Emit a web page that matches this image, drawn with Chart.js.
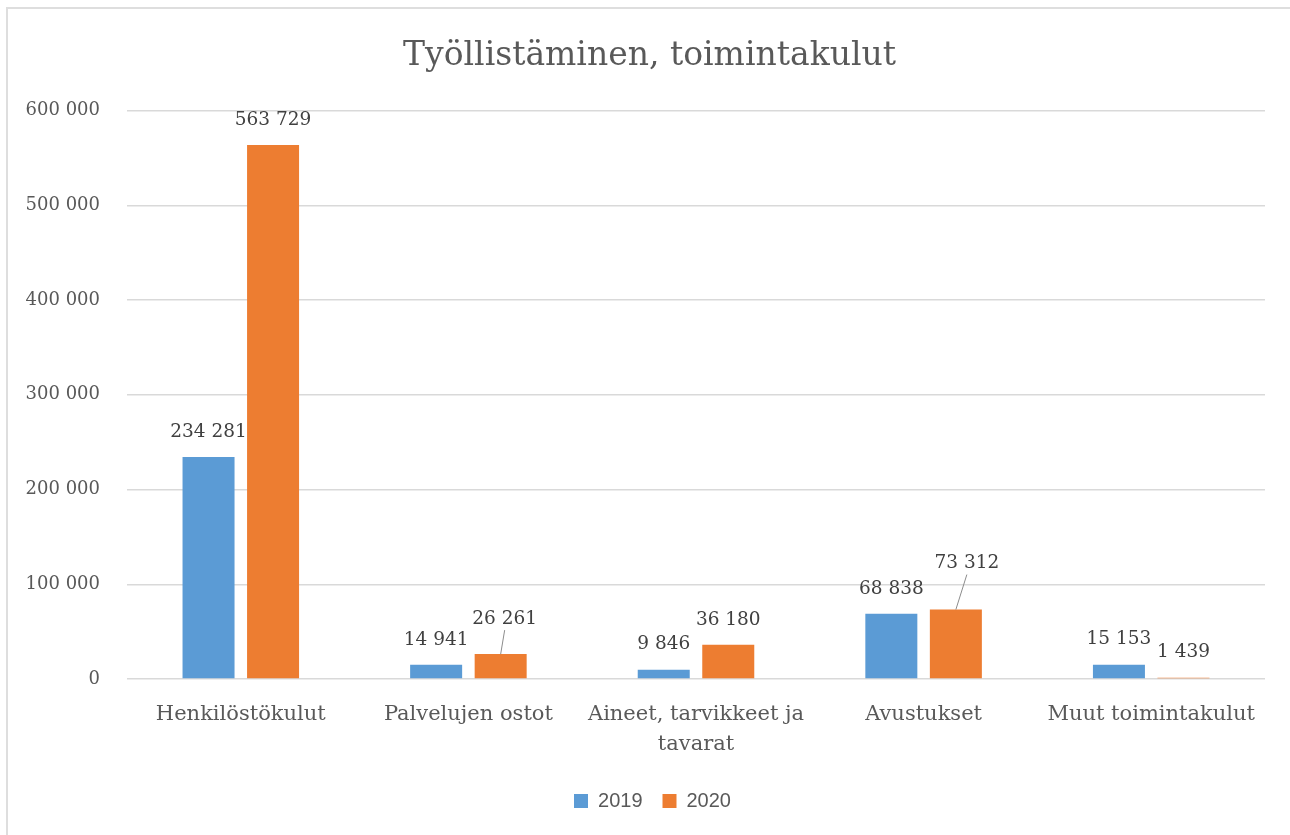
<!DOCTYPE html>
<html>
<head>
<meta charset="utf-8">
<script src="https://cdn.jsdelivr.net/npm/chart.js@4.4.1/dist/chart.umd.min.js"></script>
<style>
  html, body { margin: 0; padding: 0; background: #fff; }
  #wrap { position: relative; width: 1290px; height: 835px; }
  #frame {
    position: absolute; left: 6px; top: 7px; right: -10px; bottom: -10px;
    border-left: 2px solid #dedede; border-top: 2px solid #dedede;
    pointer-events: none;
  }
</style>
</head>
<body>
<div id="wrap">
  <canvas id="myChart" width="1290" height="835"></canvas>
  <div id="frame"></div>
</div>
<script>
const categories = [
  'Henkilöstökulut',
  'Palvelujen ostot',
  ['Aineet, tarvikkeet ja', 'tavarat'],
  'Avustukset',
  'Muut toimintakulut'
];
const values2019 = [234281, 14941, 9846, 68838, 15153];
const values2020 = [563729, 26261, 36180, 73312, 1439];
const yTicks = [0, 100000, 200000, 300000, 400000, 500000, 600000];

const serif = "'DejaVu Serif', serif";

function spaced(v) {
  return String(Math.round(v)).replace(/\B(?=(\d{3})+(?!\d))/g, ' ');
}

// Excel moved two labels up and drew a leader line to the bar
const labelNudge = { '1-1': [4, -10], '1-3': [11, -21] };

const barLabels = {
  id: 'barLabels',
  afterDatasetsDraw(chart) {
    const ctx = chart.ctx;
    ctx.save();
    ctx.font = '18.5px ' + serif;
    ctx.fillStyle = '#404040';
    ctx.textAlign = 'center';
    ctx.textBaseline = 'middle';
    chart.data.datasets.forEach((ds, di) => {
      chart.getDatasetMeta(di).data.forEach((bar, i) => {
        const n = labelNudge[di + '-' + i] || [0, 0];
        const x = bar.x + n[0];
        const y = bar.y - 25 + n[1];
        if (n[1] !== 0) {
          ctx.strokeStyle = '#8c8c8c';
          ctx.lineWidth = 1;
          ctx.beginPath();
          ctx.moveTo(x, y + 11);
          ctx.lineTo(bar.x, bar.y);
          ctx.stroke();
        }
        ctx.fillText(spaced(ds.data[i]), x, y);
      });
    });
    ctx.restore();
  }
};

// title and legend sit a bit right of the canvas centre in the original
const shiftBoxes = {
  id: 'shiftBoxes',
  afterLayout(chart) {
    chart.titleBlock.left += 17;
    chart.titleBlock.right += 17;
    chart.legend.left += 20;
    chart.legend.right += 20;
  }
};

const config = {
  type: 'bar',
  data: {
    labels: categories,
    datasets: [
      { label: '2019', data: values2019, backgroundColor: '#5B9BD5' },
      { label: '2020', data: values2020, backgroundColor: '#ED7D31' }
    ]
  },
  options: {
    responsive: false,
    animation: false,
    categoryPercentage: 0.567,
    barPercentage: 0.806,
    layout: { padding: { left: 0, right: 25, top: 0, bottom: 14 } },
    plugins: {
      title: {
        display: true,
        text: 'Työllistäminen, toimintakulut',
        color: '#595959',
        font: { family: serif, size: 33, weight: 'normal' },
        padding: { top: 37, bottom: 34 }
      },
      legend: {
        position: 'bottom',
        labels: {
          color: '#595959',
          font: { family: "'Liberation Sans', sans-serif", size: 20 },
          boxWidth: 14,
          boxHeight: 14,
          padding: 20
        }
      },
      tooltip: { enabled: false }
    },
    scales: {
      x: {
        grid: { display: false },
        border: { display: false },
        ticks: {
          color: '#595959',
          font: { family: serif, size: 21, lineHeight: 1.4 },
          padding: 13,
          maxRotation: 0
        },
        afterFit(scale) { scale.height = 92; }
      },
      y: {
        min: 0,
        max: 600000,
        afterBuildTicks(scale) { scale.ticks = yTicks.map(v => ({ value: v })); },
        grid: { color: '#d9d9d9', lineWidth: 1.5, drawTicks: false },
        border: { display: false },
        ticks: {
          color: '#595959',
          font: { family: serif, size: 18 },
          padding: 27,
          callback: v => spaced(v)
        },
        afterFit(scale) { scale.width = 127; }
      }
    }
  },
  plugins: [barLabels, shiftBoxes]
};

var myChart = new Chart(document.getElementById('myChart'), config);
</script>
</body>
</html>
